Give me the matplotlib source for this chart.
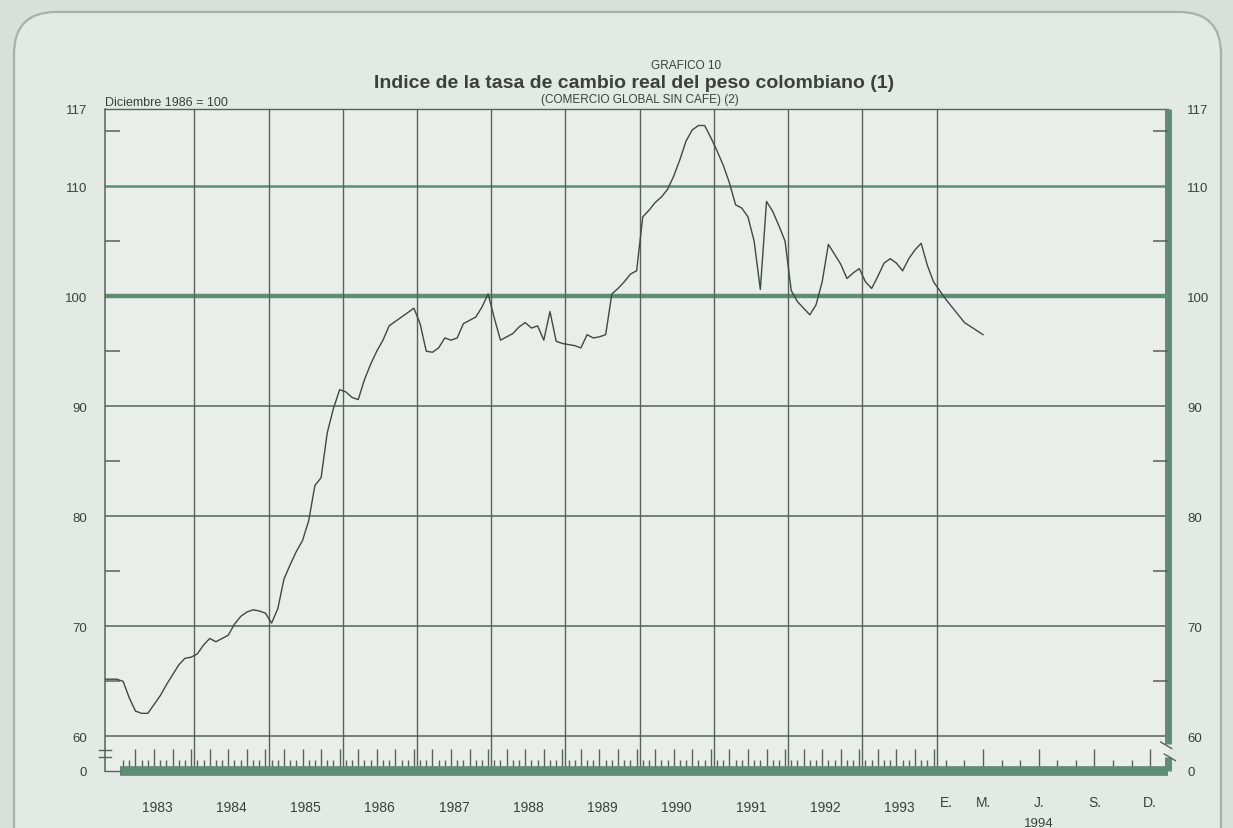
import matplotlib
matplotlib.use("Agg")
import matplotlib.pyplot as plt
from matplotlib.patches import FancyBboxPatch

plt.rcParams['font.family'] = ['Liberation Sans', 'DejaVu Sans']

# indice mensual, diciembre 1986 = 100
v1982 = [65.2, 65.2, 65.2]  # oct-dic 1982, tramo inicial plano
v1983 = [65.0, 63.5, 62.3, 62.1, 62.1, 62.9, 63.7, 64.7, 65.6, 66.5, 67.1, 67.2]
v1984 = [67.5, 68.3, 68.9, 68.6, 68.9, 69.2, 70.2, 70.9, 71.3, 71.5, 71.4, 71.2]
v1985 = [70.3, 71.6, 74.3, 75.6, 76.8, 77.8, 79.6, 82.8, 83.5, 87.6, 89.8, 91.5]
v1986 = [91.3, 90.8, 90.6, 92.4, 93.8, 95.0, 96.0, 97.3, 97.7, 98.1, 98.5, 98.9]
v1987 = [97.5, 95.0, 94.9, 95.3, 96.2, 96.0, 96.2, 97.5, 97.8, 98.1, 99.0, 100.2]
v1988 = [98.0, 96.0, 96.3, 96.6, 97.2, 97.6, 97.1, 97.3, 96.0, 98.6, 95.9, 95.7]
v1989 = [95.6, 95.5, 95.3, 96.5, 96.2, 96.3, 96.5, 100.2, 100.7, 101.3, 102.0, 102.3]
v1990 = [107.2, 107.8, 108.5, 109.0, 109.7, 110.9, 112.4, 114.1, 115.1, 115.5, 115.5, 114.4]
v1991 = [113.2, 111.9, 110.3, 108.3, 108.0, 107.2, 105.0, 100.6, 108.6, 107.7, 106.4, 105.0]
v1992 = [100.5, 99.5, 98.9, 98.3, 99.2, 101.3, 104.7, 103.8, 102.9, 101.6, 102.1, 102.5]
v1993 = [101.3, 100.7, 101.8, 103.0, 103.4, 103.0, 102.3, 103.4, 104.2, 104.8, 102.8, 101.3]
v1994 = [99.7, 97.6, 96.5]  # enero-marzo

anios = ['1983', '1984', '1985', '1986', '1987', '1988', '1989',
         '1990', '1991', '1992', '1993']
meses94 = ['E.', 'M.', 'J.', 'S.', 'D.']
meses94_idx = [0, 2, 5, 8, 11]
y_ticks = [117, 110, 100, 90, 80, 70, 60]

VERDE = '#5f8c74'
GRIS = '#56625b'
TEXTO = '#3b403d'
Y0 = 56.86      # nivel de la barra (corte del eje, "0")
ESC94 = 3       # 1994 va ampliado: cada mes ocupa 3 unidades


def pos(anio, mes):
    if anio < 1994:
        return 12 * (anio - 1983) + mes + 0.5
    return 132 + ESC94 * (mes + 0.5)


series = [(1982, v1982, 9), (1983, v1983, 0), (1984, v1984, 0), (1985, v1985, 0),
          (1986, v1986, 0), (1987, v1987, 0), (1988, v1988, 0), (1989, v1989, 0),
          (1990, v1990, 0), (1991, v1991, 0), (1992, v1992, 0), (1993, v1993, 0),
          (1994, v1994, 0)]
xs, ys = [], []
for anio, vals, m0 in series:
    for i, v in enumerate(vals):
        xs.append(pos(anio, m0 + i))
        ys.append(v)

W, H = 1233, 829
fig = plt.figure(figsize=(W / 100, H / 100), dpi=100)
fig.patch.set_facecolor('#d9e0db')

# marco redondeado del papel
fig.patches.append(FancyBboxPatch((14, -80), W - 26, H - 13 + 80,
                                  boxstyle='round,pad=0,rounding_size=42',
                                  transform=None, facecolor='#e3e9e4',
                                  edgecolor='#a9b0ab', lw=1.6, zorder=-5))

ax = fig.add_axes([105 / W, 1 - 772 / H, (1168 - 105) / W, (772 - 110) / H])
ax.set_facecolor('#e9eeea')
ax.set_xlim(-2.43, 169.4)
ax.set_ylim(Y0, 117)

# reticula
for v in [60, 70, 80, 90]:
    ax.axhline(v, color=GRIS, lw=1.1, zorder=1)
ax.axhline(110, color=VERDE, lw=1.8, zorder=1)
ax.axhline(100, color=VERDE, lw=3.2, zorder=1)
for k in range(1, 12):
    ax.axvline(12 * k, color=GRIS, lw=1.0, zorder=1)

ax.plot(xs, ys, color='#3f4843', lw=1.0, zorder=3)

# bordes
for s in ['bottom', 'right']:
    ax.spines[s].set_visible(False)
ax.spines['top'].set_color(GRIS)
ax.spines['top'].set_linewidth(1.0)
ax.spines['left'].set_color(GRIS)
ax.spines['left'].set_linewidth(1.1)

xlim = ax.get_xlim()
ax.plot([0, xlim[1]], [Y0, Y0], color=VERDE, lw=7, solid_capstyle='butt',
        clip_on=False, zorder=4)
ax.plot([xlim[0], 0], [Y0, Y0], color=GRIS, lw=1.0, clip_on=False, zorder=4)
# borde derecho verde con corte
ax.plot([xlim[1], xlim[1]], [117, 59.3], color=VERDE, lw=5,
        solid_capstyle='butt', clip_on=False, zorder=4)
ax.plot([xlim[1], xlim[1]], [58.1, Y0], color=VERDE, lw=5,
        solid_capstyle='butt', clip_on=False, zorder=4)
ax.plot([xlim[1] - 1.2, xlim[1] + 0.6], [59.5, 58.9], color=GRIS, lw=1.0,
        clip_on=False, zorder=5)
ax.plot([xlim[1] - 0.6, xlim[1] + 1.2], [58.4, 57.8], color=GRIS, lw=1.0,
        clip_on=False, zorder=5)
# corte del eje izquierdo
for yb in [58.75, 58.15]:
    ax.plot([xlim[0] - 0.9, xlim[0] + 0.9], [yb, yb], color=GRIS, lw=1.0,
            clip_on=False, zorder=5)

# marcas mensuales sobre la barra
mensual = [pos(a, m) for a in range(1983, 1995) for m in range(12)]
trimestral = [pos(a, m) for a in range(1983, 1995) for m in (2, 5, 8, 11)]
ax.set_xticks(trimestral)
ax.set_xticks(mensual, minor=True)
ax.tick_params(axis='x', which='major', direction='in', length=16, width=1.0,
               color=GRIS, labelbottom=False)
ax.tick_params(axis='x', which='minor', direction='in', length=8, width=1.0,
               color=GRIS)

# eje y izquierdo y derecho
etiquetas = [str(t) for t in y_ticks] + ['0']
ax.set_yticks(y_ticks + [Y0], etiquetas)
ax.set_yticks([115, 105, 95, 85, 75, 65], minor=True)
ax.tick_params(axis='y', which='major', length=0, pad=13, labelsize=9.5,
               labelcolor=TEXTO)
ax.tick_params(axis='y', which='minor', direction='in', length=11, width=1.1,
               color=GRIS)

ax2 = ax.twinx()
ax2.set_ylim(Y0, 117)
for s in ax2.spines.values():
    s.set_visible(False)
ax2.set_yticks(y_ticks + [Y0], etiquetas)
ax2.set_yticks([115, 105, 95, 85, 75, 65], minor=True)
ax2.tick_params(axis='y', which='major', length=0, pad=14, labelsize=9.5,
                labelcolor=TEXTO)
ax2.tick_params(axis='y', which='minor', direction='in', length=11, width=1.1,
                color=GRIS)

# etiquetas del eje x
tx = ax.get_xaxis_transform()
for i, a in enumerate(anios):
    ax.text(12 * i + 6, -0.054, a, transform=tx, ha='center', va='center',
            fontsize=10, color=TEXTO)
for lab, m in zip(meses94, meses94_idx):
    ax.text(pos(1994, m), -0.047, lab, transform=tx, ha='center', va='center',
            fontsize=10, color=TEXTO)
ax.text(pos(1994, 5), -0.078, '1994', transform=tx, ha='center', va='center',
        fontsize=9.5, color=TEXTO)

# titulos
fig.text(686 / W, 1 - 66 / H, 'GRAFICO 10', ha='center', va='center',
         fontsize=8.5, color=TEXTO)
fig.text(634 / W, 1 - 84 / H,
         'Indice de la tasa de cambio real del peso colombiano (1)',
         ha='center', va='center', fontsize=14, fontweight='bold', color=TEXTO)
fig.text(640 / W, 1 - 100 / H, '(COMERCIO GLOBAL SIN CAFE) (2)', ha='center',
         va='center', fontsize=8.5, color=TEXTO)
fig.text(105 / W, 1 - 103 / H, 'Diciembre 1986 = 100', ha='left', va='center',
         fontsize=9, color=TEXTO)

fig.savefig('out.png', dpi=100, facecolor=fig.get_facecolor())
